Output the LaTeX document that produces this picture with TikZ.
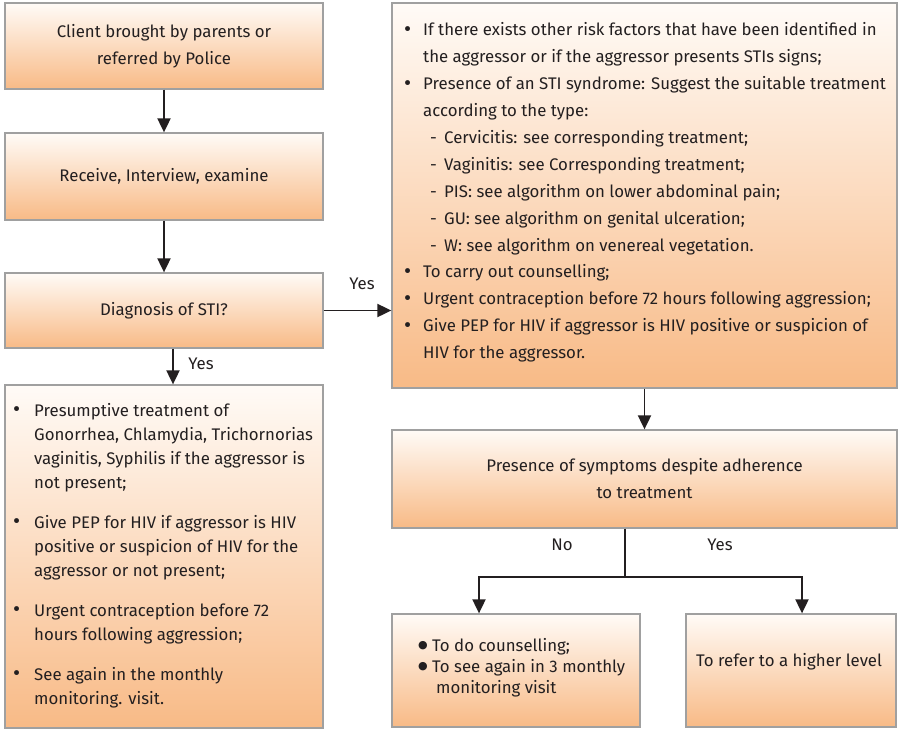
\documentclass[tikz,border=0pt]{standalone}
\usepackage{fontspec}
\setmainfont{Fira Sans}
\newfontfamily\symfont{DejaVu Sans}
\usetikzlibrary{arrows.meta}
\definecolor{boxtop}{HTML}{FFFBF7}
\definecolor{boxbot}{HTML}{F8BA86}
\definecolor{boxline}{HTML}{A0A0A0}
\definecolor{ink}{HTML}{231F20}
% list helpers: bullet in a box of given width, matching hanging indent
\newcommand{\bul}[1]{\makebox[#1][l]{\raisebox{-0.6pt}{\scalebox{1.3}{\textbullet}}}}
\newcommand{\ind}[1]{\hspace*{#1}}
\newcommand{\dsh}{\hspace*{26pt}\makebox[14pt][l]{-}}
\newcommand{\bigbul}{\makebox[14pt][l]{\raisebox{2.5pt}{\symfont\fontsize{11}{11}\selectfont ●}}}
\begin{document}
\begin{tikzpicture}[x=1pt,y=-1pt,
  box/.style={draw=boxline, line width=1.3pt, top color=boxtop, bottom color=boxbot,
    inner sep=0pt, text=ink, font=\fontsize{16.8}{27}\selectfont, align=center},
  txt/.style={inner sep=0pt, text=ink, align=left, anchor=north west},
  flow/.style={line width=1.9pt, draw=ink, -{Triangle[length=14pt,width=13pt]}},
  plain/.style={line width=1.9pt, draw=ink},
  lbl/.style={inner sep=0pt, text=ink, font=\fontsize{16.8}{20}\selectfont}]
\useasboundingbox (0,0) rectangle (899,729);

% left column
\node[box, minimum width=318pt, minimum height=86pt] (client) at (164,46)
  {Client brought by parents or\\referred by Police};
\node[box, minimum width=318pt, minimum height=87pt] (receive) at (164,176.5)
  {Receive, Interview, examine};
\node[box, minimum width=318pt, minimum height=75pt] (diag) at (164,310.5)
  {Diagnosis of STI?};
\node[box, minimum width=318pt, minimum height=343pt] (presum) at (164,556.5) {};
\node[txt, font=\fontsize{16.8}{24}\selectfont] (presumtxt) at (13,403)
  {\bul{21pt}Presumptive treatment of\\
   \ind{21pt}Gonorrhea, Chlamydia, Trichornorias\\
   \ind{21pt}vaginitis, Syphilis if the aggressor is\\
   \ind{21pt}not present;\\[16pt]
   \bul{21pt}Give PEP for HIV if aggressor is HIV\\
   \ind{21pt}positive or suspicion of HIV for the\\
   \ind{21pt}aggressor or not present;\\[16pt]
   \bul{21pt}Urgent contraception before 72\\
   \ind{21pt}hours following aggression;\\[16pt]
   \bul{21pt}See again in the monthly\\
   \ind{21pt}monitoring. visit.};

% right column
\node[box, minimum width=505pt, minimum height=385pt] (treat) at (644.5,195.5) {};
\node[txt, font=\fontsize{16.8}{26.9}\selectfont] (treattxt) at (404,22.5)
  {\bul{19pt}If there exists other risk factors that have been identified in\\
   \ind{19pt}the aggressor or if the aggressor presents STIs signs;\\
   \bul{19pt}Presence of an STI syndrome: Suggest the suitable treatment\\
   \ind{19pt}according to the type:\\
   \dsh Cervicitis: see corresponding treatment;\\
   \dsh Vaginitis: see Corresponding treatment;\\
   \dsh PIS: see algorithm on lower abdominal pain;\\
   \dsh GU: see algorithm on genital ulceration;\\
   \dsh W: see algorithm on venereal vegetation.\\
   \bul{19pt}To carry out counselling;\\
   \bul{19pt}Urgent contraception before 72 hours following aggression;\\
   \bul{19pt}Give PEP for HIV if aggressor is HIV positive or suspicion of\\
   \ind{19pt}HIV for the aggressor.};
\node[box, minimum width=505pt, minimum height=98pt] (symp) at (644.5,479)
  {Presence of symptoms despite adherence\\to treatment};
\node[box, minimum width=248pt, minimum height=113pt] (couns) at (516,670.5) {};
\node[txt, font=\fontsize{16.8}{21}\selectfont] (counstxt) at (418,638)
  {\bigbul To do counselling;\\
   \bigbul To see again in 3 monthly\\
   \hspace*{18pt}monitoring visit};
\node[box, minimum width=210pt, minimum height=113pt] (refer) at (791,670.5) {};
\node[txt, font=\fontsize{16.8}{21}\selectfont] (refertxt) at (696,653)
  {To refer to a higher level};

% connectors
\draw[flow] (client) -- (receive);
\draw[flow] (receive) -- (diag);
\draw[flow] (diag.south -| 173,0) -- (presum.north -| 173,0);
\draw[flow] (diag.east) -- (treat.west |- diag.east);
\draw[flow] (treat.south) -- (symp.north);
\coordinate (split) at (625,577);
\draw[plain] (symp.south -| split) -- (split);
\draw[flow] (split) -| (couns.north -| 479,0);
\draw[flow] (split) -| (refer.north -| 802,0);

% branch labels
\node[lbl] (yesright) at (362,284) {Yes};
\node[lbl] (yesdown) at (201,364) {Yes};
\node[lbl] (no) at (562,545) {No};
\node[lbl] (yes) at (720,545) {Yes};
\end{tikzpicture}
\end{document}
